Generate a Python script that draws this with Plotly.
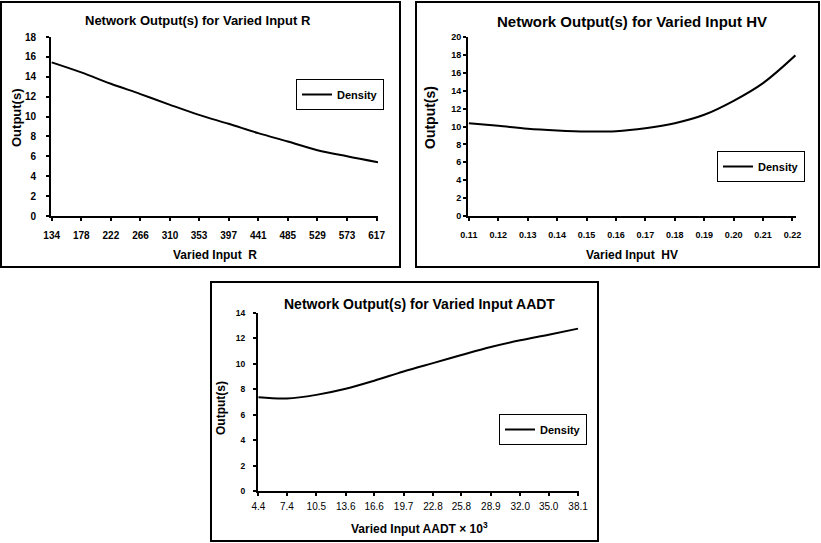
import plotly.graph_objects as go

W, H = 821, 543

# ---- data ----
r_x = [134, 178, 222, 266, 310, 353, 397, 441, 485, 529, 573, 619]
r_y = [15.45, 14.44, 13.3, 12.26, 11.18, 10.17, 9.27, 8.33, 7.49, 6.62, 6.0, 5.4]
r_ticks = [134, 178, 222, 266, 310, 353, 397, 441, 485, 529, 573, 617]

hv_x = [0.11, 0.12, 0.13, 0.14, 0.15, 0.16, 0.17, 0.18, 0.19, 0.20, 0.21, 0.221]
hv_y = [10.37, 10.07, 9.74, 9.55, 9.44, 9.48, 9.81, 10.37, 11.31, 12.87, 14.85, 17.95]
hv_ticks = [0.11, 0.12, 0.13, 0.14, 0.15, 0.16, 0.17, 0.18, 0.19, 0.20, 0.21, 0.22]

aadt_x = [4.4, 7.4, 10.5, 13.6, 16.6, 19.7, 22.8, 25.8, 28.9, 32.0, 35.0, 38.1]
aadt_y = [7.38, 7.28, 7.56, 8.04, 8.67, 9.4, 10.06, 10.69, 11.32, 11.85, 12.29, 12.77]
aadt_ticks = [4.4, 7.4, 10.5, 13.6, 16.6, 19.7, 22.8, 25.8, 28.9, 32.0, 35.0, 38.1]

FONT = "Liberation Sans, Arial, sans-serif"

def px(x):
    return x / W

def py(y):
    return 1 - y / H

fig = go.Figure()
fig.add_trace(go.Scatter(x=r_x, y=r_y, mode="lines", name="Density",
                         line=dict(color="black", width=2, shape="spline"),
                         xaxis="x", yaxis="y", legend="legend", showlegend=True))
fig.add_trace(go.Scatter(x=hv_x, y=hv_y, mode="lines", name="Density",
                         line=dict(color="black", width=2, shape="spline"),
                         xaxis="x2", yaxis="y2", legend="legend2", showlegend=True))
fig.add_trace(go.Scatter(x=aadt_x, y=aadt_y, mode="lines", name="Density",
                         line=dict(color="black", width=2, shape="spline"),
                         xaxis="x3", yaxis="y3", legend="legend3", showlegend=True))

def axis_common(size, standoff, bold=True):
    return dict(showline=True, linecolor="black", linewidth=2, showgrid=False,
                zeroline=False, ticks="outside", ticklen=3, tickwidth=2,
                tickcolor="black", ticklabelstandoff=standoff, automargin=False,
                tickfont=dict(family=FONT, size=size, color="black",
                              weight="bold" if bold else "normal"))

fig.update_layout(
    xaxis=dict(domain=[px(51), px(378)], anchor="y", range=[133, 619],
               tickvals=r_ticks, ticktext=[str(v) for v in r_ticks],
               **axis_common(10, 6)),
    yaxis=dict(domain=[py(216), py(37)], anchor="x", range=[0, 18],
               tickvals=list(range(0, 19, 2)), **axis_common(10, 8)),
    xaxis2=dict(domain=[px(468), px(796)], anchor="y2", range=[0.1097, 0.2212],
                tickvals=hv_ticks, ticktext=["%.2f" % v for v in hv_ticks],
                **axis_common(9, 6)),
    yaxis2=dict(domain=[py(216), py(37)], anchor="x2", range=[0, 20],
                tickvals=list(range(0, 21, 2)), **axis_common(9, 0)),
    xaxis3=dict(domain=[px(258), px(579)], anchor="y3", range=[4.35, 38.2],
                tickvals=aadt_ticks, ticktext=["%.1f" % v for v in aadt_ticks],
                **axis_common(10, 2, bold=False)),
    yaxis3=dict(domain=[py(491), py(313)], anchor="x3", range=[0, 14],
                tickvals=list(range(0, 15, 2)), **axis_common(8.5, 6)),
)

leg_common = dict(bgcolor="white", bordercolor="black", borderwidth=1,
                  font=dict(family=FONT, size=11, color="black", weight="bold"),
                  xanchor="left", yanchor="top", itemwidth=30, visible=True)
fig.update_layout(
    showlegend=True,
    legend=dict(x=px(296), y=py(79), **leg_common),
    legend2=dict(x=px(717), y=py(151), **leg_common),
    legend3=dict(x=px(499), y=py(414), **leg_common),
)

# panel borders
for (x0, y0, x1, y1) in [(1, 2, 400, 267), (416, 2, 819, 267), (211, 282, 598, 541)]:
    fig.add_shape(type="rect", xref="paper", yref="paper",
                  x0=px(x0), x1=px(x1), y0=py(y1), y1=py(y0),
                  line=dict(color="black", width=2), fillcolor="rgba(0,0,0,0)")

def ann(text, x, y, size, angle=0, bold=True):
    fig.add_annotation(text=text, xref="paper", yref="paper", x=px(x), y=py(y),
                       xanchor="center", yanchor="middle", showarrow=False,
                       textangle=angle,
                       font=dict(family=FONT, size=size, color="black",
                                 weight="bold" if bold else "normal"))

# titles
ann("Network Output(s) for Varied Input R", 198, 20, 13)
ann("Network Output(s) for Varied Input HV", 632, 21, 15)
ann("Network Output(s) for Varied Input AADT", 420, 304, 14)
# x axis titles
ann("Varied Input  R", 215, 255, 12)
ann("Varied Input  HV", 632, 255, 12)
ann("Varied Input AADT × 10<sup>3</sup>", 419, 528, 12)
# y axis titles
ann("Output(s)", 16, 118, 13, angle=-90)
ann("Output(s)", 430, 118, 14, angle=-90)
ann("Output(s)", 221, 408, 12, angle=-90)

fig.update_layout(width=W, height=H, margin=dict(l=0, r=0, t=0, b=0, autoexpand=False),
                  paper_bgcolor="white", plot_bgcolor="white",
                  font=dict(family=FONT, color="black"))

post = ("document.documentElement.style.margin='0';"
        "document.body.style.margin='0';document.body.style.padding='0';"
        "document.documentElement.style.overflow='hidden';"
        "document.body.style.overflow='hidden';"
        "window.scrollTo(0,0);")
fig.write_html("out.html", config={"displayModeBar": False}, post_script=post)
